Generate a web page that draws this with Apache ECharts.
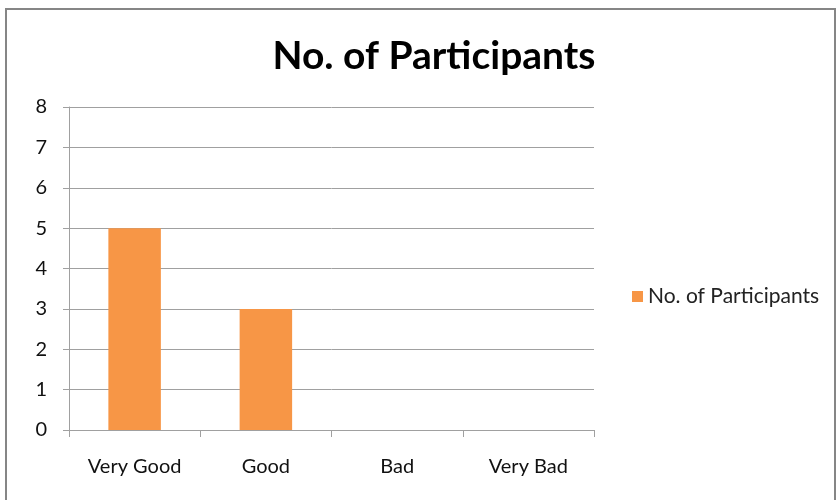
<!DOCTYPE html>
<html><head><meta charset="utf-8">
<script src="https://cdn.jsdelivr.net/npm/echarts@6/dist/echarts.min.js"></script>
<style>html,body{margin:0;padding:0;background:#fff}#c{width:837px;height:500px}</style>
</head><body><div id="c"></div>
<script>
const categories = ['Very Good', 'Good', 'Bad', 'Very Bad'];
const participants = [5, 3, 0, 0];
const seriesName = 'No. of Participants';
const titleText = 'No. of Participants';

const chart = echarts.init(document.getElementById('c'), null, {renderer: 'canvas'});
const font = 'Lato, "Open Sans", sans-serif';
chart.setOption({
  animation: false,
  backgroundColor: '#fff',
  textStyle: {fontFamily: font},
  graphic: [{
    type: 'polyline', silent: true,
    shape: {points: [[6, 510], [6, 9], [835, 9], [835, 510]]},
    style: {stroke: '#868686', lineWidth: 2, fill: null}
  }],
  title: {
    text: titleText, left: 429, top: 32, textAlign: 'center',
    textStyle: {fontFamily: font, fontSize: 39, fontWeight: 'bold', color: '#000'}
  },
  legend: {
    data: [seriesName], left: 627, top: 281, itemWidth: 11, itemHeight: 11, itemGap: 7,
    icon: 'rect',
    textStyle: {fontFamily: font, fontSize: 21, color: '#222'}
  },
  grid: {left: 69, right: 243, top: 107, bottom: 70},
  xAxis: {
    type: 'category', data: categories,
    axisLine: {lineStyle: {color: '#a0a0a0'}},
    axisTick: {show: true, length: 7, lineStyle: {color: '#a0a0a0'}},
    axisLabel: {fontFamily: font, fontSize: 20, color: '#111', margin: 27}
  },
  yAxis: {
    type: 'value', min: 0, max: 8, interval: 1,
    axisLine: {show: true, lineStyle: {color: '#a0a0a0'}},
    axisTick: {show: true, length: 6, lineStyle: {color: '#a0a0a0'}},
    axisLabel: {fontFamily: font, fontSize: 20, color: '#111', margin: 22},
    splitLine: {lineStyle: {color: '#a0a0a0'}}
  },
  series: [{
    name: seriesName, type: 'bar', data: participants, barWidth: '40%',
    itemStyle: {color: '#F79646'}
  }]
});
</script></body></html>
